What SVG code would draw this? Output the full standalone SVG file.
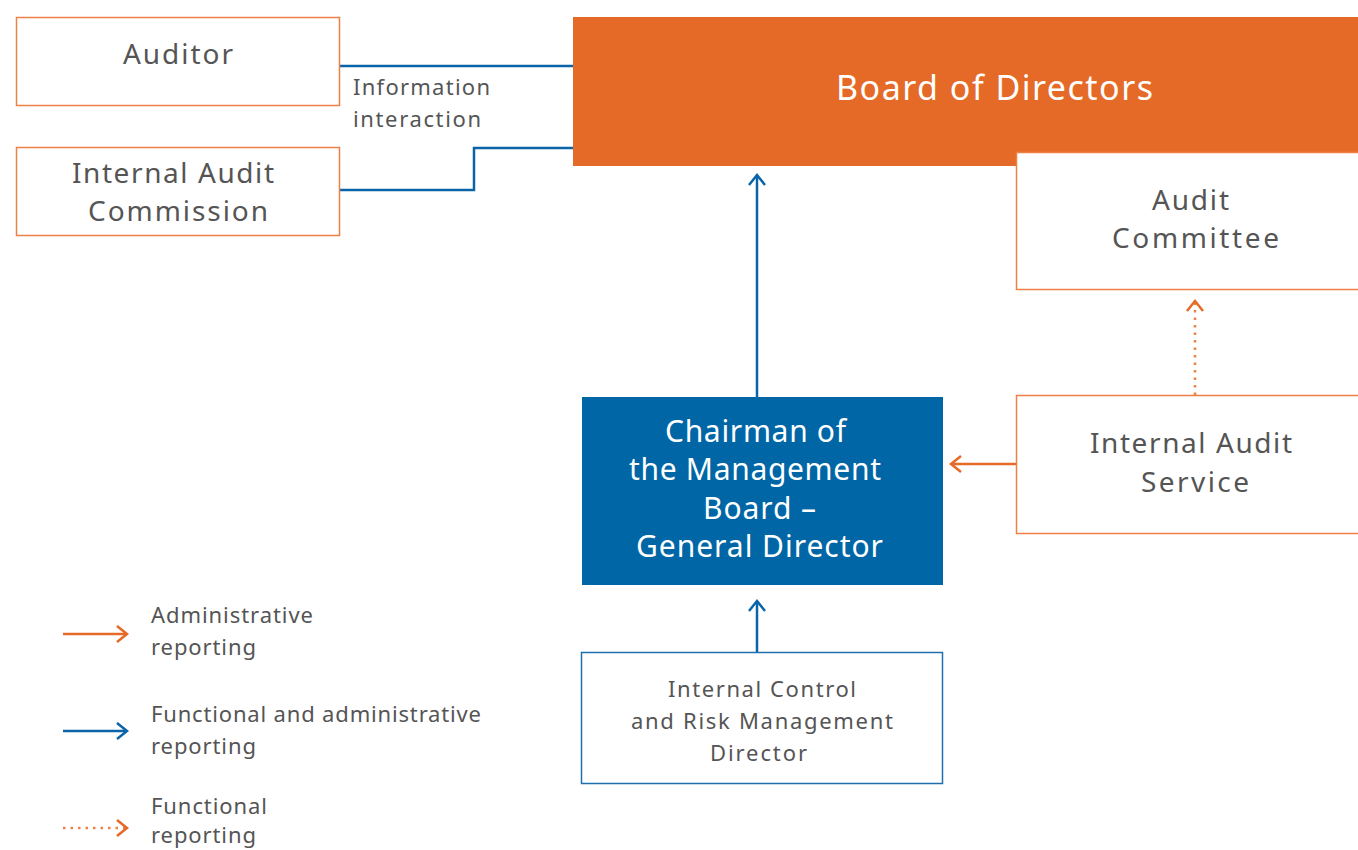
<svg xmlns="http://www.w3.org/2000/svg" width="1358" height="850" viewBox="0 0 1358 850">
<defs>
<style>
text{font-family:"Noto Sans","Open Sans","Liberation Sans",sans-serif;text-anchor:middle}
.g{fill:#555}
.w{fill:#fff}
.ob{fill:#fff;stroke:#ef8045;stroke-width:1.5}
.bb{fill:#fff;stroke:#1f6fae;stroke-width:1.5}
.bl{stroke:#0a65a8;stroke-width:2.5;fill:none}
.or{stroke:#e56a27;stroke-width:2.5;fill:none}
.dot{stroke:#ef8045;stroke-width:2.5;fill:none;stroke-dasharray:2.5 5}
.lg{text-anchor:start;font-size:22px;fill:#555}
</style>
<marker id="ab" viewBox="0 0 20 20" refX="12" refY="10" markerWidth="20" markerHeight="20" markerUnits="userSpaceOnUse" orient="auto">
<path d="M2,2 L12,10 L2,18" fill="none" stroke="#0a65a8" stroke-width="2.5"/>
</marker>
<marker id="ao" viewBox="0 0 20 20" refX="12" refY="10" markerWidth="20" markerHeight="20" markerUnits="userSpaceOnUse" orient="auto">
<path d="M2,2 L12,10 L2,18" fill="none" stroke="#e56a27" stroke-width="2.5"/>
</marker>
</defs>
<rect width="1358" height="850" fill="#fff"/>

<g id="connectors">
<path class="bl" d="M340,66 H573"/>
<path class="bl" d="M340,190 H474 V148 H573"/>
<path class="bl" d="M757,397 V175" marker-end="url(#ab)"/>
<path class="bl" d="M757,652 V601" marker-end="url(#ab)"/>
<path class="or" d="M1016,464 H951" marker-end="url(#ao)"/>
<path class="dot" d="M1195,395 V301" marker-end="url(#ao)"/>
<text class="lg" x="353" y="95" textLength="137">Information</text>
<text class="lg" x="353" y="127" textLength="128">interaction</text>
</g>

<g id="board">
<rect x="573" y="17" width="785" height="149" fill="#e56a27"/>
<text class="w" x="994.5" y="100" font-size="34" textLength="317">Board of Directors</text>
</g>

<g id="auditor">
<rect class="ob" x="16.5" y="17.5" width="323" height="88"/>
<text class="g" x="178" y="64" font-size="28" textLength="110">Auditor</text>
</g>

<g id="iac">
<rect class="ob" x="16.5" y="147.5" width="323" height="88"/>
<text class="g" x="173" y="183" font-size="28" textLength="202">Internal Audit</text>
<text class="g" x="178" y="221" font-size="28" textLength="180">Commission</text>
</g>

<g id="audit-committee">
<rect class="ob" x="1016.5" y="152.5" width="350" height="137"/>
<text class="g" x="1190.5" y="210" font-size="28" textLength="77">Audit</text>
<text class="g" x="1195.5" y="248" font-size="28" textLength="167">Committee</text>
</g>

<g id="chairman">
<rect x="582" y="397" width="361" height="188" fill="#0066a6"/>
<text class="w" x="755.5" y="442" font-size="30" textLength="181">Chairman of</text>
<text class="w" x="755" y="480" font-size="30" textLength="252">the Management</text>
<text class="w" x="759.5" y="519" font-size="30" textLength="113">Board –</text>
<text class="w" x="759.5" y="557" font-size="30" textLength="247">General Director</text>
</g>

<g id="ias">
<rect class="ob" x="1016.5" y="395.5" width="350" height="138"/>
<text class="g" x="1191" y="453" font-size="28" textLength="202">Internal Audit</text>
<text class="g" x="1195" y="492" font-size="28" textLength="108">Service</text>
</g>

<g id="icrm">
<rect class="bb" x="581.5" y="652.5" width="361" height="131"/>
<text class="g" x="762" y="697" font-size="22" textLength="188">Internal Control</text>
<text class="g" x="762" y="729" font-size="22" textLength="262">and Risk Management</text>
<text class="g" x="758.5" y="761" font-size="22" textLength="97">Director</text>
</g>

<g id="legend">
<path class="or" d="M63,634 H127" marker-end="url(#ao)"/>
<text class="lg" x="151" y="623" textLength="162">Administrative</text>
<text class="lg" x="151" y="655" textLength="105">reporting</text>
<path class="bl" d="M63,731 H127" marker-end="url(#ab)"/>
<text class="lg" x="151" y="722" textLength="330">Functional and administrative</text>
<text class="lg" x="151" y="754" textLength="105">reporting</text>
<path class="dot" d="M63,828 H127" marker-end="url(#ao)"/>
<text class="lg" x="151" y="814" textLength="116">Functional</text>
<text class="lg" x="151" y="843" textLength="105">reporting</text>
</g>
</svg>
